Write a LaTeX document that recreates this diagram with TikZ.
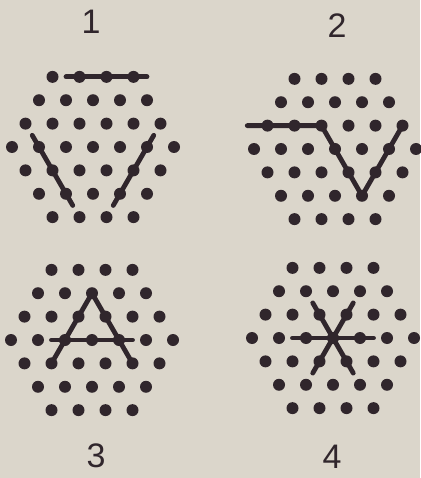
\documentclass[tikz,border=0pt]{standalone}
\usepackage{fontspec}
\setmainfont{Liberation Sans}
\definecolor{PaperBeige}{RGB}{219,214,203}
\definecolor{PegDark}{RGB}{48,38,44}
\usepackage{tikz}

\tikzset{
  peg/.style={fill=PegDark},
  stick/.style={draw=PegDark, line width=4.8pt, line cap=round, line join=round},
  numlabel/.style={font=\fontsize{34}{40}\selectfont, text=PegDark}
}
\newcommand{\pegboard}{%
  \foreach \r in {-3,...,3}{
    \pgfmathtruncatemacro{\n}{6-abs(\r)}
    \foreach \i in {0,...,\n}
      \fill[peg] ({\i-\n/2},{\r*0.866}) circle (6pt);
  }}

\begin{document}
\begin{tikzpicture}[x=1pt,y=1pt]
\fill[PaperBeige] (0,0) rectangle (420,-478);
\useasboundingbox (0,0) rectangle (420,-478);
% board 1
\begin{scope}[shift={(93pt,-147pt)},x=27pt,y=27pt]
\pegboard
\draw[stick] (-1,2.598) -- (2,2.598);
\draw[stick] (-2.25,0.433) -- (-0.75,-2.165);
\draw[stick] (2.25,0.433) -- (0.75,-2.165);
\end{scope}
% board 2
\begin{scope}[shift={(335pt,-149pt)},x=27pt,y=27pt]
\pegboard
\draw[stick] (-3.25,0.866) -- (-0.5,0.866) -- (1,-1.732) -- (2.5,0.866);
\end{scope}
% board 3
\begin{scope}[shift={(92pt,-340pt)},x=27pt,y=27pt]
\pegboard
\draw[stick] (-1.5,-0.866) -- (0,1.732) -- (1.5,-0.866);
\draw[stick] (-1.5,0) -- (1.5,0);
\end{scope}
% board 4
\begin{scope}[shift={(333pt,-338pt)},x=27pt,y=27pt]
\pegboard
\draw[stick] (-1.5,0) -- (1.5,0);
\draw[stick] (-0.75,1.299) -- (0.75,-1.299);
\draw[stick] (0.75,1.299) -- (-0.75,-1.299);
\end{scope}
% numbers
\node[numlabel] (n1) at (91,-22) {1};
\node[numlabel] (n2) at (337,-26) {2};
\node[numlabel] (n3) at (96,-456) {3};
\node[numlabel] (n4) at (332,-457) {4};
\end{tikzpicture}
\end{document}
